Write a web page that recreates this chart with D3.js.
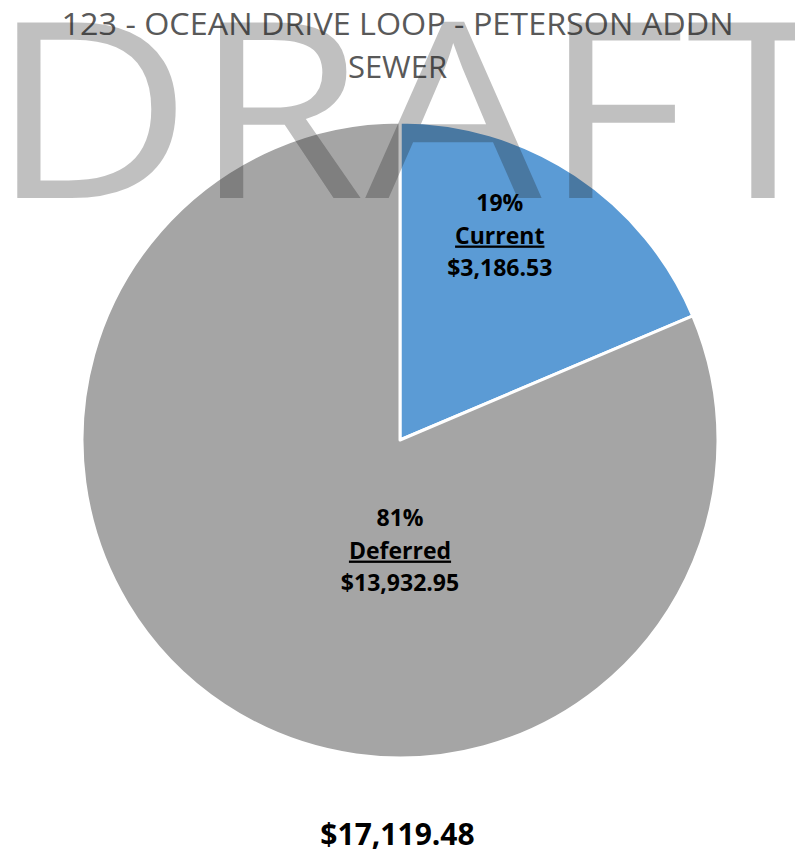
<!DOCTYPE html>
<html>
<head>
    <script src="https://d3js.org/d3.v7.min.js"></script>
    <style>
        body { margin: 0; background: white; font-family: "Open Sans", Arial, sans-serif; }
        svg { display: block; }
    </style>
</head>
<body>
    <svg width="795" height="855"></svg>
    <script>
        // chart data
        const titleLines = ["123 - OCEAN DRIVE LOOP - PETERSON ADDN", "SEWER"];
        const categories = ["Current", "Deferred"];
        const values = [3186.53, 13932.95];
        const colors = ["#5B9BD5", "#A5A5A5"];
        // where Excel put the labels: angle (deg from 12 o'clock) and radius fraction
        const labelAngles = [24.9, 180];
        const labelRadii = [0.745, 0.315];

        const width = 795, height = 855;
        const cx = 400, cy = 440, radius = 318;

        const svg = d3.select("svg");
        const total = d3.sum(values);
        const fmt = d3.format("$,.2f");
        const pct = d3.format(".0%");

        // title
        svg.append("g").selectAll("text")
            .data(titleLines)
            .enter().append("text")
            .attr("x", width / 2)
            .attr("y", (d, i) => 35 + i * 43)
            .attr("text-anchor", "middle")
            .attr("fill", "#595959")
            .attr("textLength", (d, i) => i === 0 ? 672 : null)
            .attr("lengthAdjust", "spacingAndGlyphs")
            .style("font-size", "31px")
            .text(d => d);

        // pie
        const pie = d3.pie().sort(null).value(d => d);
        const arc = d3.arc().innerRadius(0).outerRadius(radius);
        const g = svg.append("g").attr("transform", `translate(${cx},${cy})`);

        g.selectAll("path")
            .data(pie(values))
            .enter().append("path")
            .attr("d", arc)
            .attr("fill", (d, i) => colors[i])
            .attr("stroke", "white")
            .attr("stroke-width", 3)
            .attr("stroke-linejoin", "round");

        // labels
        const lab = g.selectAll(".lab")
            .data(pie(values))
            .enter().append("text")
            .attr("class", "lab")
            .attr("text-anchor", "middle")
            .style("font-size", "23px")
            .style("font-weight", "bold")
            .attr("fill", "black")
            .attr("transform", (d, i) => {
                const a = labelAngles[i] * Math.PI / 180;
                const r = labelRadii[i] * radius;
                return `translate(${r * Math.sin(a)},${-r * Math.cos(a)})`;
            });

        lab.append("tspan").attr("x", 0).attr("dy", "-0.6em").text(d => pct(d.value / total));
        lab.append("tspan").attr("x", 0).attr("dy", "1.4em")
            .style("text-decoration", "underline")
            .text((d, i) => categories[i]);
        lab.append("tspan").attr("x", 0).attr("dy", "1.4em").text(d => fmt(d.value));

        // total under the pie
        svg.append("text")
            .attr("x", width / 2)
            .attr("y", 845)
            .attr("text-anchor", "middle")
            .style("font-size", "30px")
            .style("font-weight", "bold")
            .text(fmt(total));

        // DRAFT watermark on top
        svg.append("text")
            .attr("x", -10)
            .attr("y", 198)
            .attr("textLength", 850)
            .attr("lengthAdjust", "spacingAndGlyphs")
            .style("font-size", "246px")
            .style("font-weight", 400)
            .attr("fill", "#1e1e1e")
            .attr("fill-opacity", 0.28)
            .text("DRAFT");
    </script>
</body>
</html>
